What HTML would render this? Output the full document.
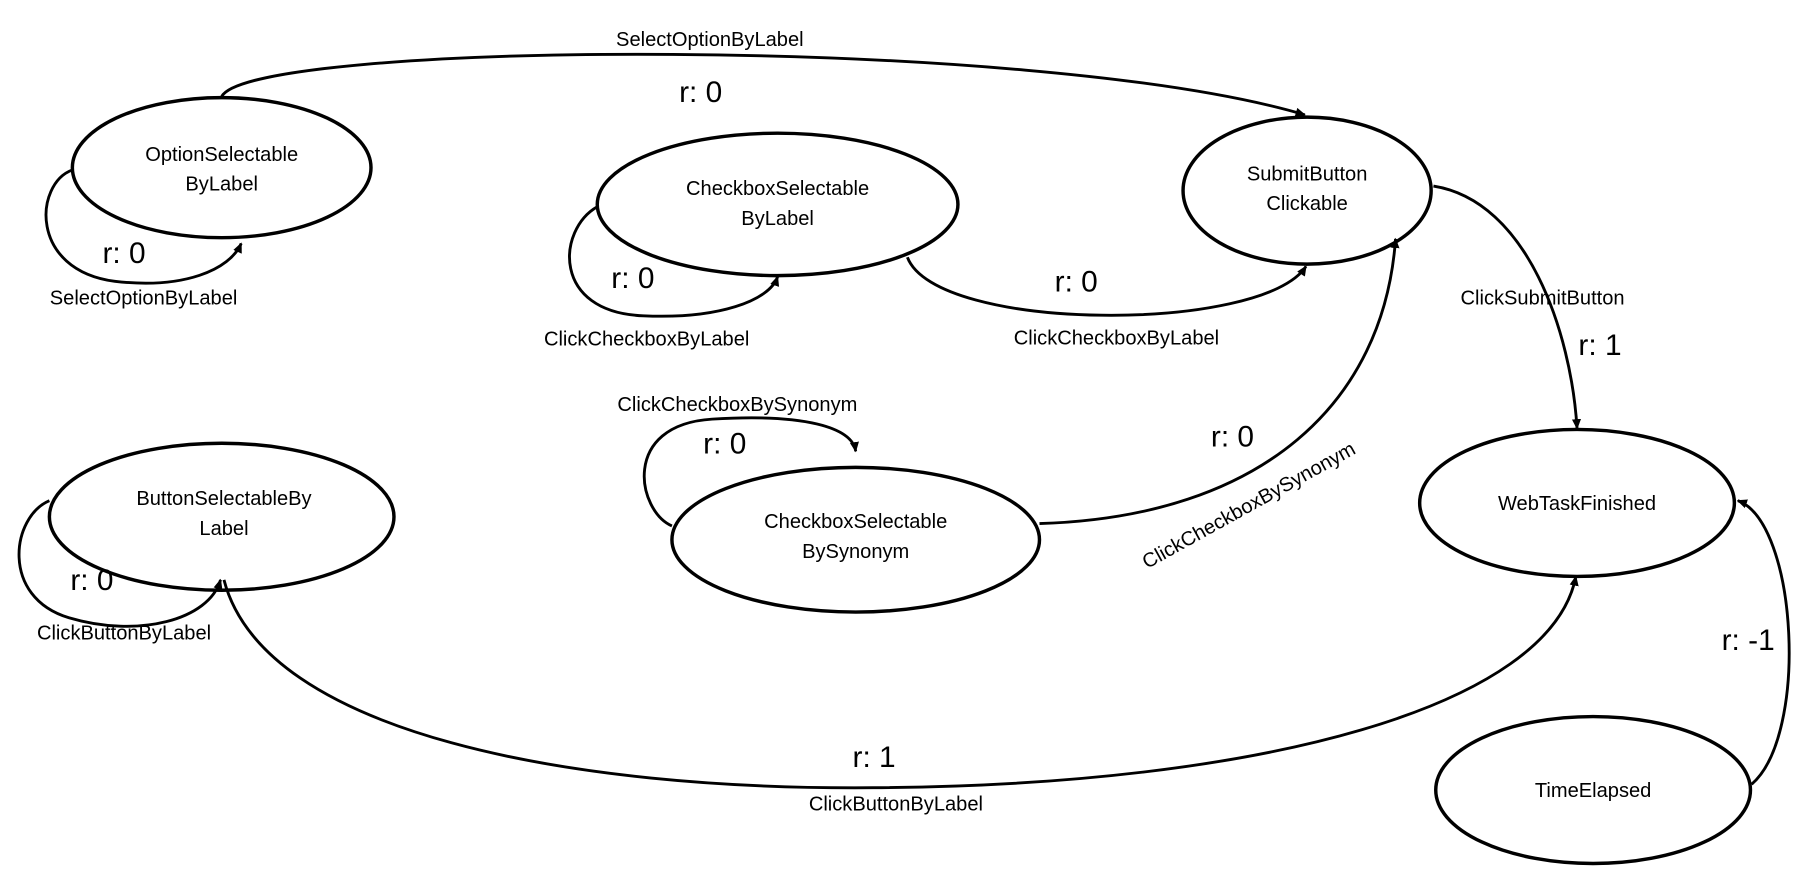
<!DOCTYPE html>
<html><head><meta charset="utf-8"><style>
html,body{margin:0;padding:0;background:#fff;width:1801px;height:875px;overflow:hidden}
svg{display:block}
text{font-family:"Liberation Sans",Arial,sans-serif;fill:#000}
.n{font-size:17.5px;text-anchor:middle}
.e{font-size:17.5px;text-anchor:middle}
.r{font-size:26px;text-anchor:middle}
</style></head><body>
<svg width="1801" height="875" viewBox="0 0 1568 762" preserveAspectRatio="none" xmlns="http://www.w3.org/2000/svg">
<defs><marker id="a" markerWidth="10" markerHeight="10" refX="8" refY="5" orient="auto" markerUnits="userSpaceOnUse"><path d="M0,1 L9,5 L0,9 z" fill="#000"/></marker></defs>
<g fill="none" stroke="#000" stroke-width="3">
<ellipse cx="193" cy="146" rx="130" ry="61"/>
<ellipse cx="677" cy="178" rx="157" ry="62"/>
<ellipse cx="1138" cy="166" rx="108" ry="64"/>
<ellipse cx="193" cy="450" rx="150" ry="64"/>
<ellipse cx="745" cy="470" rx="160" ry="63"/>
<ellipse cx="1373" cy="438" rx="137" ry="64"/>
<ellipse cx="1387" cy="688" rx="137" ry="64"/>
</g>
<g fill="none" stroke="#000" stroke-width="2.5" marker-end="url(#a)">
<path d="M193,84 C220,35 900,30 1136,100"/>
<path d="M63,148 C30,160 25,235 100,245 C160,252 200,235 210,212"/>
<path d="M520,180 C485,200 480,272 560,275 C625,278 670,262 677,241"/>
<path d="M790,224 C815,290 1100,290 1137,232"/>
<path d="M1248,162 C1330,175 1368,290 1373,373"/>
<path d="M585,458 C555,445 540,370 620,365 C700,360 742,372 745,393"/>
<path d="M905,456 C1100,450 1205,350 1215,208"/>
<path d="M43,436 C10,450 0,520 60,538 C120,556 182,540 192,505"/>
<path d="M195,505 C230,640 500,688 760,686 C1100,684 1350,615 1372,502"/>
<path d="M1525,683 C1575,640 1565,455 1513,436"/>
</g>
<text class="n" x="193" y="140">OptionSelectable</text>
<text class="n" x="193" y="166">ByLabel</text>
<text class="n" x="677" y="170">CheckboxSelectable</text>
<text class="n" x="677" y="196">ByLabel</text>
<text class="n" x="1138" y="157">SubmitButton</text>
<text class="n" x="1138" y="183">Clickable</text>
<text class="n" x="195" y="440">ButtonSelectableBy</text>
<text class="n" x="195" y="466">Label</text>
<text class="n" x="745" y="460">CheckboxSelectable</text>
<text class="n" x="745" y="486">BySynonym</text>
<text class="n" x="1373" y="444">WebTaskFinished</text>
<text class="n" x="1387" y="694">TimeElapsed</text>
<text class="e" x="618" y="40">SelectOptionByLabel</text>
<text class="r" x="610" y="89">r: 0</text>
<text class="r" x="108" y="229">r: 0</text>
<text class="e" x="125" y="265">SelectOptionByLabel</text>
<text class="r" x="551" y="251">r: 0</text>
<text class="e" x="563" y="301">ClickCheckboxByLabel</text>
<text class="r" x="937" y="254">r: 0</text>
<text class="e" x="972" y="300">ClickCheckboxByLabel</text>
<text class="e" x="1343" y="265">ClickSubmitButton</text>
<text class="r" x="1393" y="309">r: 1</text>
<text class="e" x="642" y="358">ClickCheckboxBySynonym</text>
<text class="r" x="631" y="395">r: 0</text>
<text class="r" x="1073" y="389">r: 0</text>
<text class="e" transform="translate(1090,445) rotate(-29)">ClickCheckboxBySynonym</text>
<text class="r" x="80" y="514">r: 0</text>
<text class="e" x="108" y="557">ClickButtonByLabel</text>
<text class="r" x="761" y="668">r: 1</text>
<text class="e" x="780" y="706">ClickButtonByLabel</text>
<text class="r" x="1522" y="566">r: -1</text>
</svg>
</body></html>
